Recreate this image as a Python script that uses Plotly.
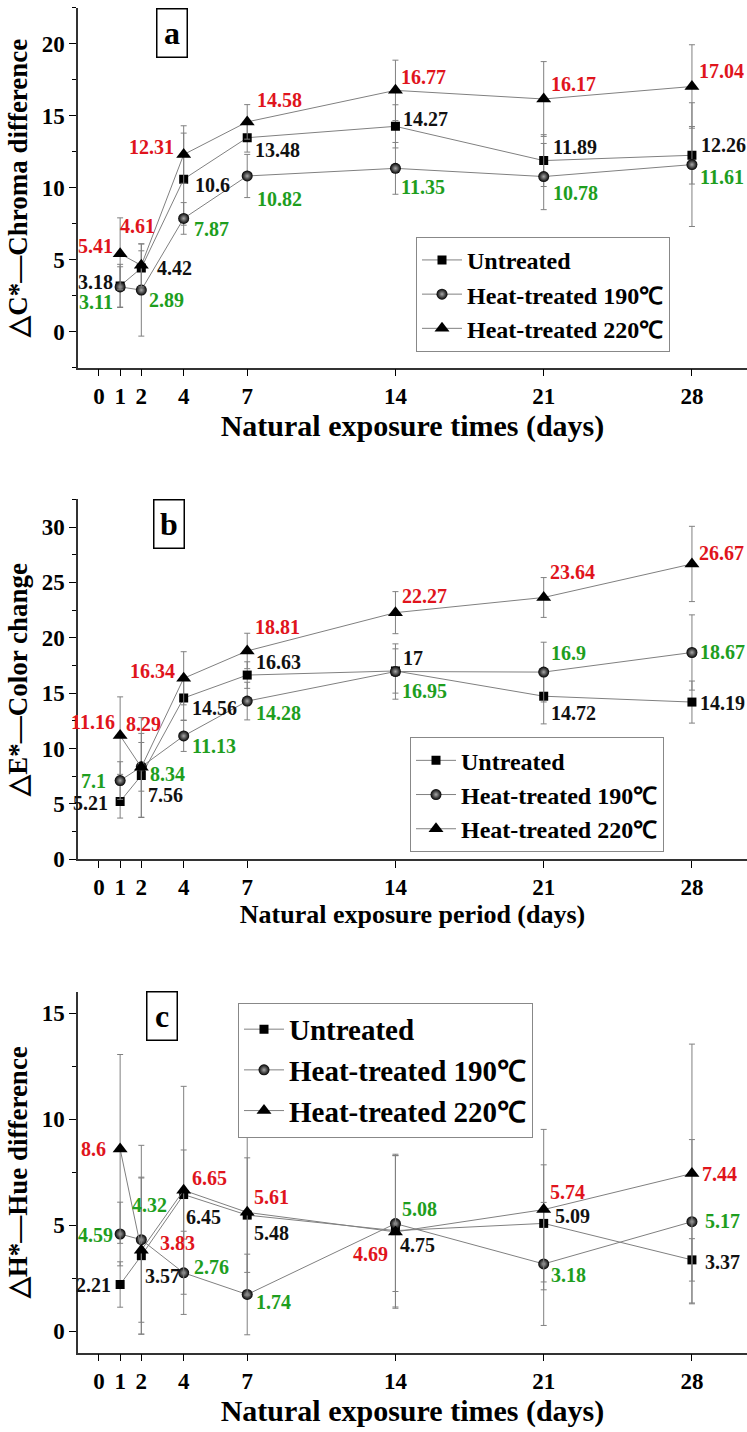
import plotly.graph_objects as go

# ---------------- data ----------------
days = [1, 2, 4, 7, 14, 21, 28]
x_ticks = [0, 1, 2, 4, 7, 14, 21, 28]
series_names = ["Untreated", "Heat-treated 190℃", "Heat-treated 220℃"]

# Panel a: ΔC* chroma difference
a_untreated = [3.18, 4.42, 10.6, 13.48, 14.27, 11.89, 12.26]
a_190 = [3.11, 2.89, 7.87, 10.82, 11.35, 10.78, 11.61]
a_220 = [5.41, 4.61, 12.31, 14.58, 16.77, 16.17, 17.04]
a_untreated_err = [1.5, 1.2, 3.2, 1.0, 1.5, 1.8, 2.0]
a_190_err = [1.4, 3.2, 1.1, 1.5, 1.8, 2.3, 4.3]
a_220_err = [2.5, 1.5, 2.0, 1.2, 2.1, 2.6, 2.9]

# Panel b: ΔE* colour change
b_untreated = [5.21, 7.56, 14.56, 16.63, 17.0, 14.72, 14.19]
b_190 = [7.1, 8.34, 11.13, 14.28, 16.95, 16.9, 18.67]
b_220 = [11.16, 8.29, 16.34, 18.81, 22.27, 23.64, 26.67]
b_untreated_err = [1.5, 3.8, 2.0, 1.2, 2.0, 2.5, 1.9]
b_190_err = [1.7, 2.2, 1.4, 1.7, 2.5, 2.7, 3.4]
b_220_err = [3.5, 4.5, 2.4, 1.6, 1.9, 1.8, 3.4]

# Panel c: ΔH* hue difference
c_untreated = [2.21, 3.57, 6.45, 5.48, 4.75, 5.09, 3.37]
c_190 = [4.59, 4.32, 2.76, 1.74, 5.08, 3.18, 5.17]
c_220 = [8.6, 3.83, 6.65, 5.61, 4.69, 5.74, 7.44]
c_untreated_err = [1.07, 3.7, 2.1, 2.7, 3.6, 2.76, 1.0]
c_190_err = [1.5, 4.45, 1.96, 1.9, 3.2, 2.9, 3.87]
c_220_err = [4.45, 3.4, 4.9, 3.9, 3.6, 3.78, 6.1]

# ---------------- styling (label offsets in px) ----------------
RED = "#e0141c"
GREEN = "#1e9e1e"
BLACK = "#111111"
LINE = "#808080"
FONT = "Liberation Serif"

# (xanchor, xshift, yshift) per label
a_off = {
    "u": [("right", -5, 4), ("left", 14, 0), ("left", 9, -6), ("left", 6, -12), ("left", 6, 7), ("left", 7, 14), ("left", 7, 10)],
    "c190": [("right", -5, -15), ("left", 6, -10), ("left", 8, -11), ("left", 8, -23), ("left", 4, -19), ("left", 7, -16), ("left", 6, -12)],
    "c220": [("right", -5, 8), ("center", -4, 39), ("right", -8, 8), ("left", 8, 22), ("left", 4, 13), ("left", 5, 15), ("left", 5, 15)],
}
b_off = {
    "u": [("right", -10, -2), ("left", 5, -20), ("left", 6, -10), ("left", 7, 13), ("left", 6, 13), ("left", 5, -17), ("left", 6, -1)],
    "c190": [("right", -12, 0), ("left", 7, -7), ("left", 6, -10), ("left", 7, -12), ("left", 5, -19), ("left", 5, 19), ("left", 6, 0)],
    "c220": [("right", -3, 14), ("center", 2, 43), ("right", -7, 7), ("left", 6, 24), ("left", 5, 17), ("left", 4, 25), ("left", 5, 11)],
}
c_off = {
    "u": [("right", -7, 0), ("left", 2, -20), ("left", 0, -22), ("left", 5, -18), ("left", 3, -14), ("left", 9, 7), ("left", 11, -2)],
    "c190": [("right", -5, -1), ("center", 8, 35), ("left", 8, 6), ("left", 7, -8), ("left", 5, 15), ("left", 5, -11), ("left", 11, 1)],
    "c220": [("right", -12, 0), ("left", 17, 7), ("left", 6, 12), ("left", 5, 15), ("right", -5, -22), ("left", 4, 18), ("left", 8, 0)],
}

panels = [
    dict(vals=[a_untreated, a_190, a_220], errs=[a_untreated_err, a_190_err, a_220_err], off=a_off,
         yrange=[-2.5, 22.5], dom=[1 - 371 / 1432, 1 - 8 / 1432], ytitle="△C*—Chroma difference",
         xtitle="Natural exposure times (days)", xtsize=30, legend="legend", tag="a", tagy=33),
    dict(vals=[b_untreated, b_190, b_220], errs=[b_untreated_err, b_190_err, b_220_err], off=b_off,
         yrange=[0, 32.5], dom=[1 - 867 / 1432, 1 - 504 / 1432], ytitle="△E*—Color change",
         xtitle="Natural exposure period (days)", xtsize=26, legend="legend2", tag="b", tagy=529),
    dict(vals=[c_untreated, c_190, c_220], errs=[c_untreated_err, c_190_err, c_220_err], off=c_off,
         yrange=[-1, 16], dom=[1 - 1365 / 1432, 1 - 1001 / 1432], ytitle="△H*—Hue difference",
         xtitle="Natural exposure times (days)", xtsize=30, legend="legend3", tag="c", tagy=1025),
]
tag_x = [172, 169, 162]

symbols = ["square", "circle", "triangle-up"]
sizes = [9, 11, 13]
label_colors = [BLACK, GREEN, RED]
off_keys = ["u", "c190", "c220"]

fig = go.Figure()
annotations = []
layout_axes = {}

for pi, p in enumerate(panels):
    sfx = "" if pi == 0 else str(pi + 1)
    xa, ya = "x" + sfx, "y" + sfx
    for si in range(3):
        marker = dict(symbol=symbols[si], size=sizes[si], color="black", line=dict(width=0))
        if si == 1:
            marker["gradient"] = dict(type="radial", color="#a8a8a8")
        fig.add_trace(go.Scatter(
            x=days, y=p["vals"][si], mode="lines+markers", name=series_names[si],
            xaxis=xa, yaxis=ya, legend=p["legend"],
            line=dict(color=LINE, width=1), marker=marker,
            error_y=dict(type="data", array=p["errs"][si], visible=True,
                         color=LINE, thickness=1, width=3),
        ))
        for k, (xv, yv) in enumerate(zip(days, p["vals"][si])):
            anc, dx, dy = p["off"][off_keys[si]][k]
            annotations.append(dict(
                x=xv, y=yv, xref=xa, yref=ya, text=f"{yv:g}", showarrow=False,
                xanchor=anc, yanchor="middle", xshift=dx, yshift=dy,
                font=dict(family=FONT, size=20, color=label_colors[si], weight="bold"),
            ))
    # panel tag box
    annotations.append(dict(
        x=tag_x[pi] / 747, y=1 - p["tagy"] / 1432, xref="paper", yref="paper",
        text=p["tag"], showarrow=False, xanchor="center", yanchor="middle",
        width=29, height=47, borderpad=0, bordercolor="black", borderwidth=1.5,
        bgcolor="white", font=dict(family=FONT, size=32, color="black", weight="bold"),
    ))
    xkey = "xaxis" + sfx
    ykey = "yaxis" + sfx
    layout_axes[xkey] = dict(
        domain=[78 / 747, 1.0], range=[-0.99, 30.6], anchor=ya,
        tickmode="array", tickvals=x_ticks, ticks="outside", ticklen=7, tickwidth=1.2,
        tickcolor="black", showline=True, linecolor="#333333", linewidth=1.5,
        showgrid=False, zeroline=False,
        tickfont=dict(family=FONT, size=23, color="black", weight="bold"),
        title=dict(text=p["xtitle"], standoff=2,
                   font=dict(family=FONT, size=p["xtsize"], color="black", weight="bold")),
    )
    layout_axes[ykey] = dict(
        domain=p["dom"], range=p["yrange"], anchor=xa,
        tick0=0, dtick=5, ticks="outside", ticklen=7, tickwidth=1.2, tickcolor="black",
        minor=dict(dtick=2.5, tick0=0, ticks="outside", ticklen=4, tickcolor="black"),
        showline=True, linecolor="#333333", linewidth=1.5, showgrid=False, zeroline=False,
        tickfont=dict(family=FONT, size=23, color="black", weight="bold"),
        title=dict(text=p["ytitle"], standoff=6,
                   font=dict(family=FONT, size=27, color="black", weight="bold")),
    )

leg_common = dict(bordercolor="#888888", borderwidth=1, bgcolor="white",
                  xanchor="left", yanchor="top", itemwidth=40, tracegroupgap=0)
fig.update_layout(
    **layout_axes,
    annotations=annotations,
    width=747, height=1432,
    margin=dict(l=0, r=0, t=0, b=0),
    paper_bgcolor="white", plot_bgcolor="white",
    showlegend=True,
    legend=dict(x=416 / 747, y=1 - 239 / 1432,
                font=dict(family=FONT, size=24, color="black", weight="bold"), **leg_common),
    legend2=dict(x=410 / 747, y=1 - 744 / 1432,
                 font=dict(family=FONT, size=24, color="black", weight="bold"), **leg_common),
    legend3=dict(x=238 / 747, y=1 - 1012 / 1432,
                 font=dict(family=FONT, size=29, color="black", weight="bold"), **leg_common),
)

fig.write_html("out.html")
